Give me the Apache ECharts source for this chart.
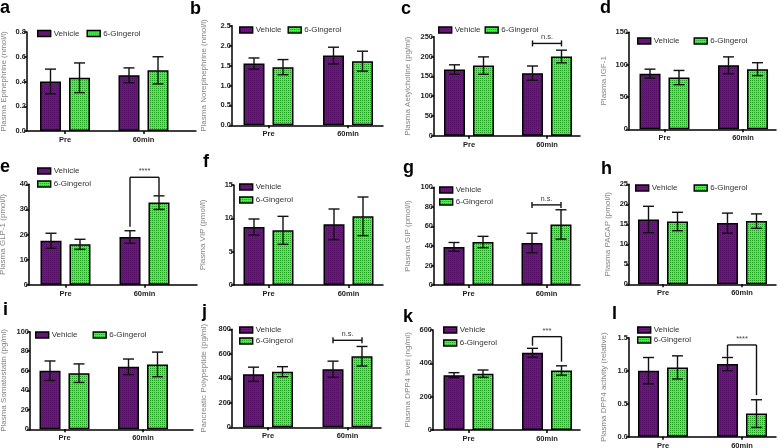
<!DOCTYPE html>
<html><head><meta charset="utf-8">
<script src="https://cdn.jsdelivr.net/npm/echarts@6/dist/echarts.min.js"></script>
<style>html,body{margin:0;padding:0;background:#fff}#c{width:778px;height:448px}</style>
</head><body><div id="c"></div><script>
// ---------- data ----------
const categories = ['Pre', '60min'];
const seriesNames = ['Vehicle', '6-Gingerol'];
const panelLetters = ['a','b','c','d','e','f','g','h','i','j','k','l'];
const yTitles = ['Plasma Epinephrine (nmol/l)', 'Plasma Norepinephrine (nmol/l)', 'Plasma Aetylcholine (pg/ml)', 'Plasma IGF-1',
  'Plasma GLP-1 (pmol/l)', 'Plasma VIP (pmol/l)', 'Plasma GIP (pmol/l)', 'Plasma PACAP (pmol/l)',
  'Plasma Somatostatin (pg/ml)', 'Pancreatic Polypeptide (pg/ml)', 'Plasma DPP4 level (ng/ml)', 'Plasma DPP4 activity (relative)'];
const yMax      = [0.8, 2.5, 250, 150, 40, 15, 100, 25, 100, 800, 600, 1.5];
const yInterval = [0.2, 0.5, 50, 50, 10, 5, 20, 5, 20, 200, 200, 0.5];
const yDecimals = [1, 1, 0, 0, 0, 0, 0, 0, 0, 0, 0, 1];
//                       a     b     c    d    e     f     g    h     i     j    k    l
const vehiclePre     = [0.40, 1.55, 167, 86, 17.5, 8.7,  39, 16.2, 60,   433, 329, 1.00];
const vehiclePreSem  = [0.10, 0.14, 12,  7,  3.0,  1.2,  4.5, 3.3, 10,   58,  15,  0.20];
const gingerolPre    = [0.43, 1.46, 177, 80, 16.1, 8.2,  44, 15.7, 57.5, 454, 338, 1.05];
const gingerolPreSem = [0.12, 0.19, 22,  11, 2.0,  2.1,  5.8, 2.3, 9.5,  41,  22,  0.175];
const vehicle60      = [0.45, 1.75, 158, 99, 19.0, 9.1,  43, 15.3, 64,   474, 463, 1.10];
const vehicle60Sem   = [0.06, 0.21, 18,  13, 2.5,  2.3,  10, 2.5,  8,    66,  27,  0.10];
const gingerol60     = [0.49, 1.61, 200, 93, 32.7, 10.3, 62, 15.8, 66.5, 580, 357, 0.35];
const gingerol60Sem  = [0.11, 0.25, 16,  10, 2.7,  2.9,  15, 1.8,  12.6, 80,  28,  0.21];
// significance brackets (at 60min)
const bracketPanel  = [2, 4, 6, 9, 10, 11];
const bracketLabel  = ['n.s.', '****', 'n.s.', 'n.s.', '***', '****'];
const bracketTop    = [233, 42.8, 82, 710, 560, 1.39];
const bracketLeft   = [null, 23.1, null, null, 506, 1.21];
const bracketRight  = [null, 35.7, null, null, 410, 0.63];

// ---------- layout / style ----------
const FONT = 'Liberation Sans';
// [y-axis x, Pre centre x, 60min centre x, x-axis end x, plot top y, plot bottom y]
const panelBox = [
  [27, 65, 143.5, 196, 32, 131], [232, 268.5, 348, 383, 25.7, 125.3], [434, 469, 547, 580, 36.7, 135.7], [629, 664.5, 743, 776, 32.3, 129.3],
  [29, 65.5, 144.5, 197, 184.3, 284.7], [234, 268.5, 348.5, 383, 185, 285], [434, 468.5, 546.5, 580, 187.3, 285], [629, 663, 742, 776, 184.3, 284.3],
  [30, 64.5, 143, 193, 331.7, 429.3], [232, 268, 347.5, 381, 329.3, 427.3], [433, 468.5, 547, 580, 330, 430], [629, 663, 742, 776, 337.7, 436.7]];
const nameGaps = [19, 24, 22, 21, 22, 27, 22, 17, 22, 24, 21, 21];
const legendPos = [
  ['horizontal', 37, 28.5, 7], ['horizontal', 239, 25, 6], ['horizontal', 438, 25, 4], ['horizontal', 637, 36, 14],
  ['vertical', 37, 166, 3], ['vertical', 239, 182, 3], ['vertical', 439, 185, 2], ['horizontal', 635, 183, 16],
  ['horizontal', 35, 330, 15], ['vertical', 239, 325, 1], ['vertical', 443, 325, 3], ['vertical', 637, 325, 0]];
const letterPos = [[0, 17], [190, 18], [401, 18], [600, 17], [0, 176], [203, 171], [403, 177], [601, 178],
  [3, 319], [202, 321], [403, 326], [612, 323]];
const BAR_OFF = 14.5, CAP = 5.5;

function makePattern(base, dot) {
  const c = document.createElement('canvas');
  c.width = 4; c.height = 4;
  const g = c.getContext('2d');
  g.fillStyle = base; g.fillRect(0, 0, 4, 4);
  g.fillStyle = dot;
  g.fillRect(0, 0, 1, 1); g.fillRect(2, 2, 1, 1);
  g.fillRect(2, 0, 1, 1); g.fillRect(0, 2, 1, 1);
  return { image: c, repeat: 'repeat' };
}
const vehicleFill = makePattern('#6c157c', '#560f66');
const gingerolFill = makePattern('#47f247', '#1f9e1f');

function renderErr(params, api) {
  const cat = api.value(0), s = api.value(1), m = api.value(2), e = api.value(3);
  const base = api.coord([cat, m]);
  const x = base[0] + (s === 0 ? -BAR_OFF : BAR_OFF);
  const yHi = api.coord([cat, m + e])[1], yLo = api.coord([cat, m - e])[1];
  const st = { stroke: '#111', lineWidth: 1.4 };
  return { type: 'group', children: [
    { type: 'line', shape: { x1: x, y1: yHi, x2: x, y2: yLo }, style: st },
    { type: 'line', shape: { x1: x - CAP, y1: yHi, x2: x + CAP, y2: yHi }, style: st },
    { type: 'line', shape: { x1: x - CAP, y1: yLo, x2: x + CAP, y2: yLo }, style: st }] };
}
function makeBracketRender(k) {
  return function (params, api) {
    const c = api.coord([2, bracketTop[k]]);
    const xl = c[0] - BAR_OFF, xr = c[0] + BAR_OFF, y = c[1];
    const st = { stroke: '#111', lineWidth: 1.4 };
    const ch = [{ type: 'line', shape: { x1: xl, y1: y, x2: xr, y2: y }, style: st }];
    if (bracketLeft[k] == null) {
      ch.push({ type: 'line', shape: { x1: xl, y1: y - 3, x2: xl, y2: y + 3 }, style: st });
      ch.push({ type: 'line', shape: { x1: xr, y1: y - 3, x2: xr, y2: y + 3 }, style: st });
    } else {
      ch.push({ type: 'line', shape: { x1: xl, y1: y, x2: xl, y2: api.coord([2, bracketLeft[k]])[1] }, style: st });
      ch.push({ type: 'line', shape: { x1: xr, y1: y, x2: xr, y2: api.coord([2, bracketRight[k]])[1] }, style: st });
    }
    ch.push({ type: 'text', x: (xl + xr) / 2, y: y - 2, style: { text: bracketLabel[k], align: 'center', verticalAlign: 'bottom',
      fontSize: 7.5, fontFamily: FONT, fill: '#444' } });
    return { type: 'group', children: ch };
  };
}

const catPos = categories.map((c, i) => i + 1);
const grids = [], xAxes = [], yAxes = [], series = [], legends = [], graphics = [];
for (let p = 0; p < 12; p++) {
  const [ax, c1, c2, xe, top, bottom] = panelBox[p];
  const unit = c2 - c1;
  const xMin = 1 - (c1 - ax) / unit;
  const xMax = xMin + (xe - ax) / unit;
  grids.push({ left: ax, top: top, width: xe - ax, height: bottom - top, containLabel: false, outerBoundsMode: 'none' });
  xAxes.push({ type: 'value', gridIndex: p, min: xMin, max: xMax, splitLine: { show: false },
    axisLine: { show: true, onZero: false, lineStyle: { color: '#000', width: 1.5 } },
    axisTick: { show: true, customValues: catPos, length: 3, lineStyle: { color: '#000', width: 1.5 } },
    axisLabel: { customValues: catPos, fontSize: 7.5, fontWeight: 'bold', color: '#222', margin: 5, fontFamily: FONT,
      formatter: (v) => categories[Math.round(v) - 1] || '' } });
  yAxes.push({ type: 'value', gridIndex: p, min: 0, max: yMax[p], interval: yInterval[p],
    name: yTitles[p], nameLocation: 'middle', nameGap: nameGaps[p], nameRotate: 90, nameMoveOverlap: false,
    nameTextStyle: { fontSize: 8, color: '#858585', fontFamily: FONT },
    axisLine: { show: true, lineStyle: { color: '#000', width: 1.5 } },
    axisTick: { show: true, length: 3, lineStyle: { color: '#000', width: 1.5 } },
    axisLabel: { fontSize: 7.5, fontWeight: 'bold', color: '#222', margin: 1, fontFamily: FONT,
      formatter: (v) => v.toFixed(yDecimals[p]) },
    splitLine: { show: false } });
  series.push({ type: 'bar', name: seriesNames[0], xAxisIndex: p, yAxisIndex: p,
    data: [[catPos[0], vehiclePre[p]], [catPos[1], vehicle60[p]]],
    barWidth: 21, barGap: '38%', z: 2, itemStyle: { color: vehicleFill, borderColor: '#000', borderWidth: 1.5 }, silent: true });
  series.push({ type: 'bar', name: seriesNames[1], xAxisIndex: p, yAxisIndex: p,
    data: [[catPos[0], gingerolPre[p]], [catPos[1], gingerol60[p]]],
    barWidth: 21, barGap: '38%', z: 2, itemStyle: { color: gingerolFill, borderColor: '#000', borderWidth: 1.5 }, silent: true });
  series.push({ type: 'custom', xAxisIndex: p, yAxisIndex: p, z: 3, silent: true, renderItem: renderErr, encode: { x: 0, y: 2 },
    data: [[catPos[0], 0, vehiclePre[p], vehiclePreSem[p]], [catPos[1], 0, vehicle60[p], vehicle60Sem[p]],
           [catPos[0], 1, gingerolPre[p], gingerolPreSem[p]], [catPos[1], 1, gingerol60[p], gingerol60Sem[p]]] });
  const lp = legendPos[p];
  legends.push({ data: seriesNames, orient: lp[0], left: lp[1], top: lp[2], itemGap: lp[3], padding: 0,
    itemWidth: 13, itemHeight: 6, icon: 'rect', selectedMode: false,
    itemStyle: { borderColor: '#000', borderWidth: 1.4 },
    textStyle: { fontSize: 8, color: '#333', fontFamily: FONT, lineHeight: 10, padding: [0, 0, 0, -2] } });
  graphics.push({ type: 'text', x: letterPos[p][0], y: letterPos[p][1],
    style: { text: panelLetters[p], font: 'bold 18px "Liberation Sans"', fill: '#000', verticalAlign: 'bottom' } });
}
bracketPanel.forEach((p, k) => {
  series.push({ type: 'custom', xAxisIndex: p, yAxisIndex: p, z: 4, silent: true, renderItem: makeBracketRender(k),
    encode: { x: 0, y: 1 }, data: [[catPos[1], bracketTop[k]]] });
});

const chart = echarts.init(document.getElementById('c'));
chart.setOption({ animation: false, backgroundColor: '#fff', grid: grids, xAxis: xAxes, yAxis: yAxes,
  legend: legends, series: series, graphic: graphics });
</script></body></html>
